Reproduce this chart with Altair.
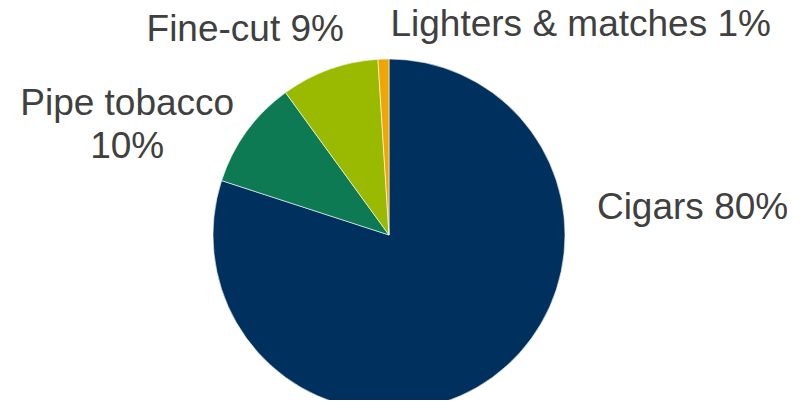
import altair as alt
import pandas as pd

categories = ["Cigars", "Pipe tobacco", "Fine-cut", "Lighters & matches"]
shares = [80, 10, 9, 1]
labels = ["Cigars 80%", "Pipe tobacco\n10%", "Fine-cut 9%", "Lighters & matches 1%"]
colors = ["#00305e", "#0e7a53", "#99ba00", "#efa600"]

df = pd.DataFrame({
    "category": categories,
    "share": shares,
    "label": labels,
    "order": list(range(len(categories))),
})

CX, CY, R = 381, 227, 176
LR = 200

base = alt.Chart(df)

pie = base.mark_arc(stroke="white", strokeWidth=0.6).encode(
    theta=alt.Theta("share:Q", stack=True, scale=alt.Scale(domain=[0, 100])),
    color=alt.Color("category:N", scale=alt.Scale(domain=categories, range=colors), legend=None),
    order=alt.Order("order:Q"),
    x=alt.value(CX),
    y=alt.value(CY),
    radius=alt.value(R),
)

offsets = {
    "Cigars": (186, -189),
    "Pipe tobacco": (-100, -13),
    "Fine-cut": (-76, -17),
    "Lighters & matches": (198, -10),
}

text_layers = []
for cat in categories:
    dx, dy = offsets[cat]
    t = (
        base.transform_stack(stack="share", groupby=[], as_=["v0", "v1"],
                             sort=[alt.SortField("order", order="ascending")])
        .transform_calculate(mid="(datum.v0 + datum.v1) / 2")
        .transform_filter(alt.datum.category == cat)
        .mark_text(font="Liberation Sans", fontSize=37, color="#404040",
                   align="center", baseline="middle", dx=dx, dy=dy,
                   lineBreak="\n", lineHeight=43)
        .encode(
            theta=alt.Theta("mid:Q", stack=None, scale=alt.Scale(domain=[0, 100])),
            radius=alt.value(LR),
            x=alt.value(CX),
            y=alt.value(CY),
            text="label:N",
        )
    )
    text_layers.append(t)

chart = alt.layer(pie, *text_layers).properties(
    width=790, height=392, padding=0,
    autosize=alt.AutoSizeParams(type="none"),
    background="white",
).configure_view(stroke=None)

chart.save("out.html", embed_options={"renderer": "svg", "actions": False})
